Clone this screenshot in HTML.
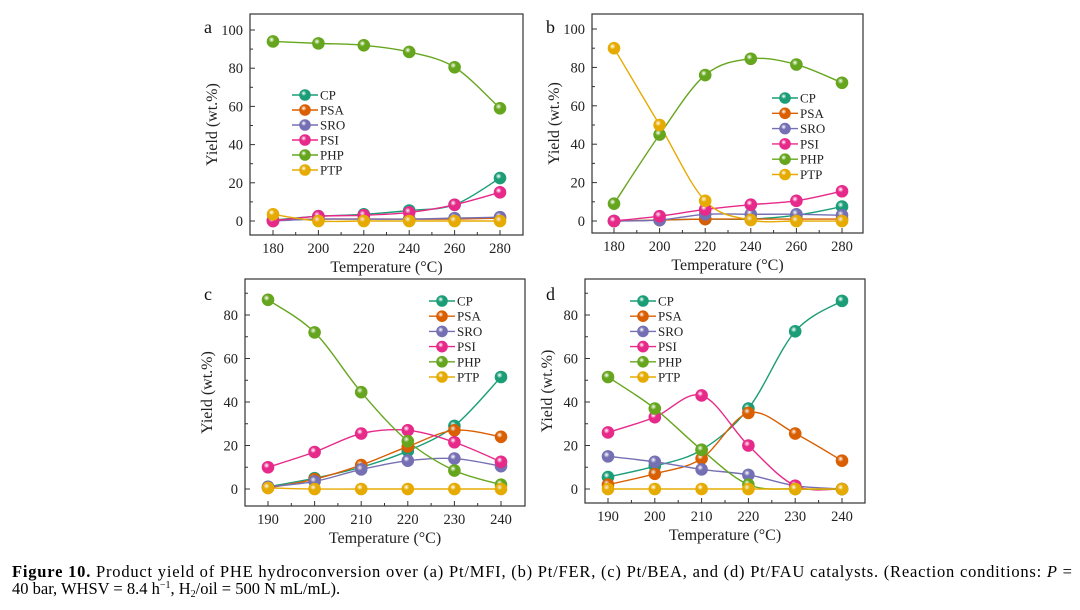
<!DOCTYPE html>
<html><head><meta charset="utf-8">
<style>
body{margin:0;background:#fff;width:1080px;height:610px;overflow:hidden;}
svg{display:block;font-family:"Liberation Serif",serif;}
</style></head>
<body>
<svg id="fig" width="1080" height="610" viewBox="0 0 1080 610">
<defs>
</defs>
<text x="12" y="577" font-size="16.5" textLength="1060" lengthAdjust="spacing"><tspan font-weight="bold">Figure 10.</tspan> Product yield of PHE hydroconversion over (a) Pt/MFI, (b) Pt/FER, (c) Pt/BEA, and (d) Pt/FAU catalysts. (Reaction conditions: <tspan font-style="italic">P</tspan> =</text>
<text x="12" y="594" font-size="16.5">40 bar, WHSV = 8.4 h<tspan dy="-6" font-size="10">−1</tspan><tspan dy="6">, H</tspan><tspan dy="3" font-size="10">2</tspan><tspan dy="-3">/oil = 500 N mL/mL).</tspan></text>
</svg>
<script>
const seriesNames=["CP","PSA","SRO","PSI","PHP","PTP"];
const colors=["#1b9e77","#d95f02","#7570b3","#e7298a","#66a61e","#e6ab02"];
const xA=[180,200,220,240,260,280];
const xC=[190,200,210,220,230,240];
const aCP=[0.5,2.5,3.5,5.5,8.5,22.5];
const aPSA=[0.5,1,1,1,1,1.5];
const aSRO=[0,1,1,1,1.5,2];
const aPSI=[0,2.5,3,4.5,8.5,15];
const aPHP=[94,93,92,88.5,80.5,59];
const aPTP=[3.5,0,0,0,0,0];
const bCP=[0,0.5,1,1,3,7.5];
const bPSA=[0,0.5,1,1,1,1];
const bSRO=[0,0.5,3.5,3.5,3.5,3];
const bPSI=[0,2.5,6,8.5,10.5,15.5];
const bPHP=[9,45,76,84.5,81.5,72];
const bPTP=[90,50,10.5,0.5,0,0];
const cCP=[1,5,10,17.5,29,51.5];
const cPSA=[0.5,4.5,11,19.5,27,24];
const cSRO=[1,3.5,9,13,14,10.5];
const cPSI=[10,17,25.5,27,21.5,12.5];
const cPHP=[87,72,44.5,22,8.5,2];
const cPTP=[0.5,0,0,0,0,0];
const dCP=[5.5,10.5,18,37,72.5,86.5];
const dPSA=[2,7,14,35,25.5,13];
const dSRO=[15,12.5,9,6.5,1.5,0];
const dPSI=[26,33,43,20,1.5,0];
const dPHP=[51.5,37,18,2,0,0];
const dPTP=[0,0,0,0,0,0];
const xTicksA=[180,200,220,240,260,280];
const xTicksC=[190,200,210,220,230,240];
const yTicksAB=[0,20,40,60,80,100];
const yTicksCD=[0,20,40,60,80];

const panels=[
 {id:"a",fx0:250,fx1:523,fy0:14,fy1:235,xd:[180,280],xp:[273,500],yd:[0,100],yp:[221,30],xs:xA,xt:xTicksA,yt:yTicksAB,minorX:10,minorY:10,
  data:[aCP,aPSA,aSRO,aPSI,aPHP,aPTP],leg:[305,95,15],label:[204,33]},
 {id:"b",fx0:592,fx1:863,fy0:14,fy1:233,xd:[180,280],xp:[614,842],yd:[0,100],yp:[221,29],xs:xA,xt:xTicksA,yt:yTicksAB,minorX:10,minorY:10,
  data:[bCP,bPSA,bSRO,bPSI,bPHP,bPTP],leg:[785,98,15.3],label:[546,33]},
 {id:"c",fx0:245,fx1:525,fy0:279,fy1:506,xd:[190,240],xp:[268,501],yd:[0,80],yp:[489,315],xs:xC,xt:xTicksC,yt:yTicksCD,minorX:5,minorY:10,
  data:[cCP,cPSA,cSRO,cPSI,cPHP,cPTP],leg:[442,301,15.2],label:[204,300]},
 {id:"d",fx0:585,fx1:865,fy0:279,fy1:503,xd:[190,240],xp:[608,842],yd:[0,80],yp:[489,315],xs:xC,xt:xTicksC,yt:yTicksCD,minorX:5,minorY:10,
  data:[dCP,dPSA,dSRO,dPSI,dPHP,dPTP],leg:[643,301,15.2],label:[546,300]}
];
const NS="http://www.w3.org/2000/svg";
const svg=document.getElementById("fig");
const defs=svg.querySelector("defs");
colors.forEach((c,i)=>{
 const g=document.createElementNS(NS,"radialGradient");
 g.setAttribute("id","grad"+i);g.setAttribute("cx","0.38");g.setAttribute("cy","0.35");g.setAttribute("r","0.7");
 g.innerHTML=`<stop offset="0" stop-color="#fff" stop-opacity="0.85"/><stop offset="0.35" stop-color="${c}"/><stop offset="1" stop-color="${c}" stop-opacity="1"/>`;
 defs.appendChild(g);
});
function mk(tag,attrs,parent){const e=document.createElementNS(NS,tag);for(const k in attrs)e.setAttribute(k,attrs[k]);(parent||svg).appendChild(e);return e;}
function spline(pts){
 let d=`M${pts[0][0]},${pts[0][1]}`;
 for(let i=0;i<pts.length-1;i++){
  const p0=pts[Math.max(0,i-1)],p1=pts[i],p2=pts[i+1],p3=pts[Math.min(pts.length-1,i+2)];
  const c1=[p1[0]+(p2[0]-p0[0])/6,p1[1]+(p2[1]-p0[1])/6];
  const c2=[p2[0]-(p3[0]-p1[0])/6,p2[1]-(p3[1]-p1[1])/6];
  d+=` C${c1[0]},${c1[1]} ${c2[0]},${c2[1]} ${p2[0]},${p2[1]}`;
 }
 return d;
}
panels.forEach(p=>{
 const X=v=>p.xp[0]+(v-p.xd[0])/(p.xd[1]-p.xd[0])*(p.xp[1]-p.xp[0]);
 const Y=v=>p.yp[0]+(v-p.yd[0])/(p.yd[1]-p.yd[0])*(p.yp[1]-p.yp[0]);
 const g=mk("g",{});
 
 
 const fr=mk("rect",{x:p.fx0,y:p.fy0,width:p.fx1-p.fx0,height:p.fy1-p.fy0,fill:"none",stroke:"#333","stroke-width":1.2},g);
 
 
 for(let v=p.xd[0]-p.minorX*2;v<=p.xd[1]+p.minorX*2;v+=p.minorX){
  const x=X(v); if(x<=p.fx0+1||x>=p.fx1-1)continue;
  const major=p.xt.includes(v);
  mk("line",{x1:x,x2:x,y1:p.fy1,y2:p.fy1-(major?5:3),stroke:"#333","stroke-width":1},g);
 }
 p.xt.forEach(v=>{
  const t=mk("text",{x:X(v),y:p.fy1+18,"text-anchor":"middle","font-size":14.5,fill:"#222"},g);
  t.textContent=v;
  
  
 });
 for(let v=p.yd[0]-p.minorY*2;v<=p.yd[1]+p.minorY*2;v+=p.minorY){
  const y=Y(v); if(y<=p.fy0+1||y>=p.fy1-1)continue;
  const major=p.yt.includes(v);
  mk("line",{x1:p.fx0,x2:p.fx0+(major?5:3),y1:y,y2:y,stroke:"#333","stroke-width":1},g);
 }
 p.yt.forEach(v=>{
  const t=mk("text",{x:p.fx0-7,y:Y(v)+5,"text-anchor":"end","font-size":14.5,fill:"#222"},g);
  t.textContent=v;
  
  
 });
 const xt=mk("text",{x:(p.fx0+p.fx1)/2,y:p.fy1+37,"text-anchor":"middle","font-size":16,fill:"#222"},g);
 xt.textContent="Temperature (°C)";
 
 
 const yx=p.fx0-33, yy=(p.fy0+p.fy1)/2;
 const ytl=mk("text",{x:yx,y:yy,"text-anchor":"middle","font-size":16,fill:"#222",transform:`rotate(-90 ${yx} ${yy})`},g);
 ytl.textContent="Yield (wt.%)";
 
 
 const lb=mk("text",{x:p.label[0],y:p.label[1],"font-size":18,fill:"#111"},g);
 lb.textContent=p.id;
 
 
 p.data.forEach((vals,i)=>{
  const pts=vals.map((v,j)=>[X(p.xs[j]),Y(v)]);
  const path=mk("path",{d:spline(pts),fill:"none",stroke:colors[i],"stroke-width":1.4},g);
  
  
 });
 p.data.forEach((vals,i)=>{
  vals.forEach((v,j)=>{
   const c=mk("circle",{cx:X(p.xs[j]),cy:Y(v),r:6,fill:`url(#grad${i})`,stroke:colors[i],"stroke-width":0.6},g);
   
   
  });
 });
 seriesNames.forEach((n,i)=>{
  const lx=p.leg[0], ly=p.leg[1]+i*p.leg[2];
  const lg=mk("g",{},g);
  
  
  mk("line",{x1:lx-13,x2:lx+13,y1:ly,y2:ly,stroke:colors[i],"stroke-width":1.4},lg);
  mk("circle",{cx:lx,cy:ly,r:5.5,fill:`url(#grad${i})`,stroke:colors[i],"stroke-width":0.6},lg);
  const t=mk("text",{x:lx+15,y:ly+4.5,"font-size":13,fill:"#222"},lg);
  t.textContent=n;
 });
});
</script>
</body></html>
